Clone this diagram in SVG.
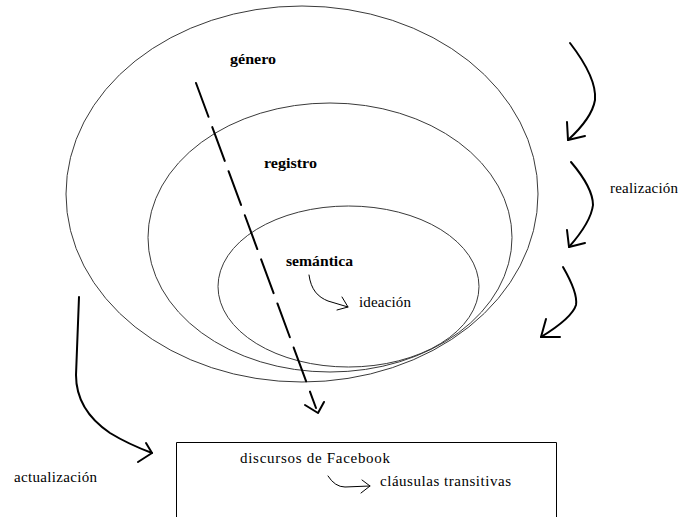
<svg xmlns="http://www.w3.org/2000/svg" width="681" height="517" viewBox="0 0 681 517">
  <style>
    .ring { fill: none; stroke: #3a3a3a; stroke-width: 1; }
    .lbl { font-family: "Liberation Serif", "Times New Roman", serif; font-size: 15px; fill: #000; }
    .bold { font-weight: bold; font-size: 15px; }
    .hand { fill: none; stroke: #000; stroke-width: 2; stroke-linecap: round; stroke-linejoin: round; }
    .thin { fill: none; stroke: #000; stroke-width: 1; stroke-linecap: round; stroke-linejoin: round; }
  </style>
  <rect width="681" height="517" fill="#fff"/>

  <!-- nested strata -->
  <g id="genero">
    <ellipse class="ring" cx="302" cy="194" rx="236" ry="188"/>
    <text class="lbl bold" x="230" y="64" textLength="46" lengthAdjust="spacingAndGlyphs">género</text>
  </g>
  <g id="registro">
    <ellipse class="ring" cx="330" cy="237.5" rx="182" ry="134.5"/>
    <text class="lbl bold" x="264" y="168" textLength="53" lengthAdjust="spacingAndGlyphs">registro</text>
  </g>
  <g id="semantica">
    <ellipse class="ring" cx="348.5" cy="286.5" rx="130.5" ry="80.5"/>
    <text class="lbl bold" x="286" y="266" textLength="67" lengthAdjust="spacingAndGlyphs">semántica</text>
  </g>
  <g id="ideacion">
    <text class="lbl" x="359" y="307" textLength="52" lengthAdjust="spacing">ideación</text>
  </g>

  <!-- instance box -->
  <g id="facebook">
    <polyline class="thin" points="176.5,520 176.5,442.5 556.5,442.5 556.5,520" stroke="#333"/>
    <text class="lbl" x="240" y="463" textLength="150" lengthAdjust="spacing">discursos de Facebook</text>
  </g>
  <g id="clausulas">
    <text class="lbl" x="380" y="486" textLength="131" lengthAdjust="spacing">cláusulas transitivas</text>
  </g>

  <g id="realizacion">
    <text class="lbl" x="610" y="193" textLength="68" lengthAdjust="spacing">realización</text>
  </g>
  <g id="actualizacion">
    <text class="lbl" x="14" y="482" textLength="83" lengthAdjust="spacing">actualización</text>
  </g>

  <!-- connectors -->
  <g id="connectors">
    <!-- realisation arrows down the strata -->
    <path class="hand" d="M570,43 Q597,78 595,100 Q592,118 568,140"/>
    <polyline class="hand" points="567,122 568,140 585,136"/>
    <path class="hand" d="M571,162 Q593,188 593,205 Q591,222 569,247"/>
    <polyline class="hand" points="567,230 569,247 585,243"/>
    <path class="hand" d="M563,267 Q578,293 576,305 Q572,318 541,337"/>
    <polyline class="hand" points="546,319 541,337 560,337"/>

    <!-- instantiation arrow -->
    <path class="hand" d="M79,297 L76,375 Q76,410 110,433 Q128,444 152,453"/>
    <polyline class="hand" points="146,443 152,453 138,462"/>

    <!-- dashed path through the strata -->
    <line class="hand" x1="196" y1="83" x2="316" y2="408" stroke-dasharray="36 11" stroke-linecap="butt"/>
    <polyline class="hand" points="305,405 318,413 324,402"/>

    <!-- semántica to ideación -->
    <path class="thin" d="M309,275 C311,290 318,297 328,301 L348,307"/>
    <polyline class="thin" points="342,297 348,307 337,310"/>

    <!-- discursos to cláusulas -->
    <path class="thin" d="M328,476 Q335,487 345,487 L370,486"/>
    <polyline class="thin" points="362,480 370,486 361,493"/>
  </g>
</svg>
